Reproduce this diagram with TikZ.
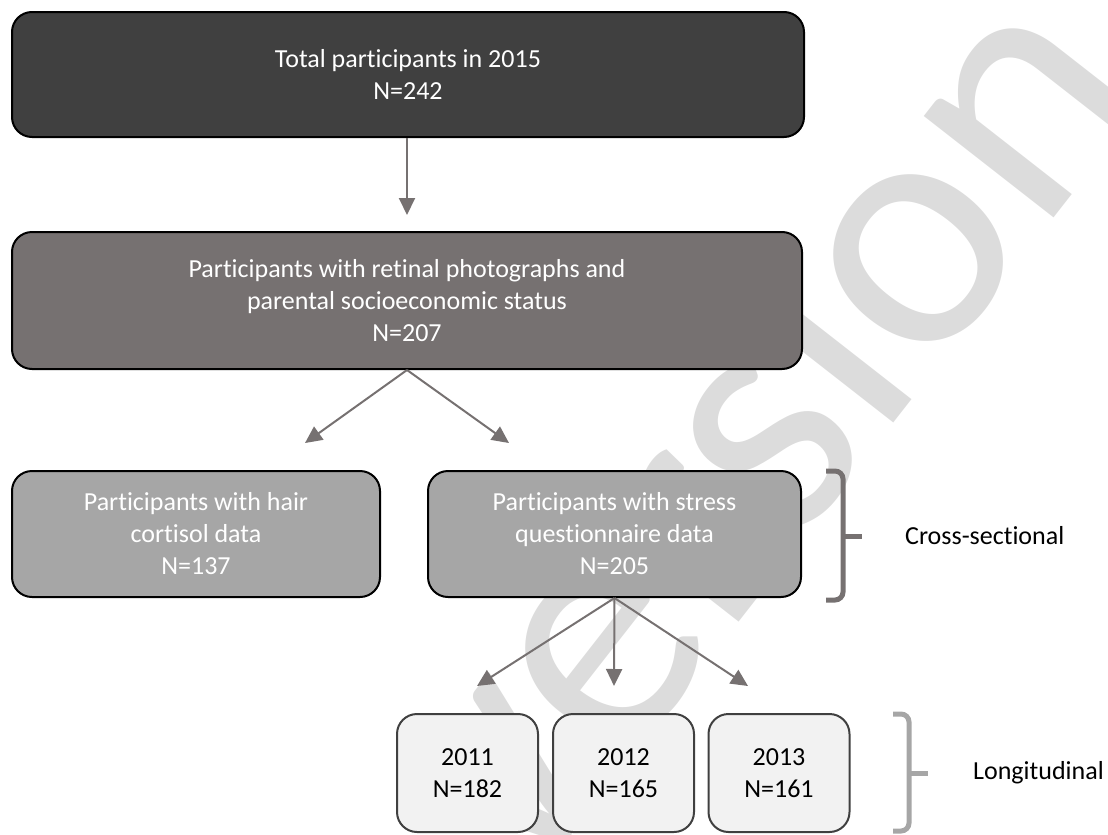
\documentclass[tikz,border=0pt]{standalone}
\usepackage{fontspec}
\setmainfont[Ligatures=NoCommon]{Carlito}
\usetikzlibrary{arrows.meta}
\definecolor{cdark}{HTML}{404040}
\definecolor{cmid}{HTML}{767171}
\definecolor{clight}{HTML}{A6A6A6}
\definecolor{cyear}{HTML}{F2F2F2}
\definecolor{carrow}{HTML}{767171}
\definecolor{cwm}{HTML}{DCDCDC}
\tikzset{
  box/.style={draw=black, line width=2pt, rounded corners=20pt, align=center,
    inner sep=0pt, text=white, font=\fontsize{26}{32}\selectfont},
  yearbox/.style={draw=cdark, line width=2pt, rounded corners=20pt, align=center,
    inner sep=0pt, fill=cyear, text=black, font=\fontsize{26}{32}\selectfont,
    minimum width=141pt, minimum height=118pt},
  arr/.style={draw=carrow, line width=2pt, -{Triangle[length=17pt,width=16pt]}},
  brace/.style={line width=5pt, rounded corners=8pt},
  lab/.style={font=\fontsize{26}{32}\selectfont, text=black, anchor=west, inner sep=0pt}
}
\begin{document}
\begin{tikzpicture}[x=1pt,y=-1pt]
\useasboundingbox (0,0) rectangle (1108,835);
% watermark
\node[rotate=52, text=cwm, font=\fontsize{345}{345}\selectfont, anchor=base west, inner sep=0pt] (wm) at (525,895) {version};
% boxes
\node[box, fill=cdark, minimum width=792pt, minimum height=125pt] (b1) at (408,74.5)
  {Total participants in 2015\\N=242};
\node[box, fill=cmid, minimum width=790pt, minimum height=137pt] (b2) at (407,300.5)
  {Participants with retinal photographs and\\parental socioeconomic status\\N=207};
\node[box, fill=clight, minimum width=368pt, minimum height=126pt] (b3) at (196,534)
  {Participants with hair\\cortisol data\\N=137};
\node[box, fill=clight, minimum width=373pt, minimum height=126pt] (b4) at (614.5,534)
  {Participants with stress\\questionnaire data\\N=205};
\node[yearbox] (y1) at (467.5,773) {2011\\N=182};
\node[yearbox] (y2) at (623.5,773) {2012\\N=165};
\node[yearbox] (y3) at (779,773) {2013\\N=161};
% arrow tips
\coordinate (t1) at (407,215);
\coordinate (t3) at (305,443);
\coordinate (t4) at (509,443);
\coordinate (ty1) at (477,686);
\coordinate (ty2) at (614,686);
\coordinate (ty3) at (748,686);
\draw[arr] (b1.south -| t1) -- (t1);
\draw[arr] (b2.south) -- (t3);
\draw[arr] (b2.south) -- (t4);
\draw[arr] (b4.south) -- (ty1);
\draw[arr] (b4.south) -- (ty2);
\draw[arr] (b4.south) -- (ty3);
% braces
\coordinate (cs1) at (826,471);
\coordinate (cs2) at (826,600);
\coordinate (csm) at (843,536);
\coordinate (cst) at (862,536);
\draw[brace, draw=cmid] (cs1) -| (csm) |- (cs2);
\draw[line width=5pt, draw=cmid] (csm) -- (cst);
\node[lab] (cs) at (905,536) {Cross-sectional};
\coordinate (lg1) at (893,714);
\coordinate (lg2) at (893,831);
\coordinate (lgm) at (909,773);
\coordinate (lgt) at (928,773);
\draw[brace, draw=clight] (lg1) -| (lgm) |- (lg2);
\draw[line width=5pt, draw=clight] (lgm) -- (lgt);
\node[lab] (lg) at (973,773) {Longitudinal};
\end{tikzpicture}
\end{document}
